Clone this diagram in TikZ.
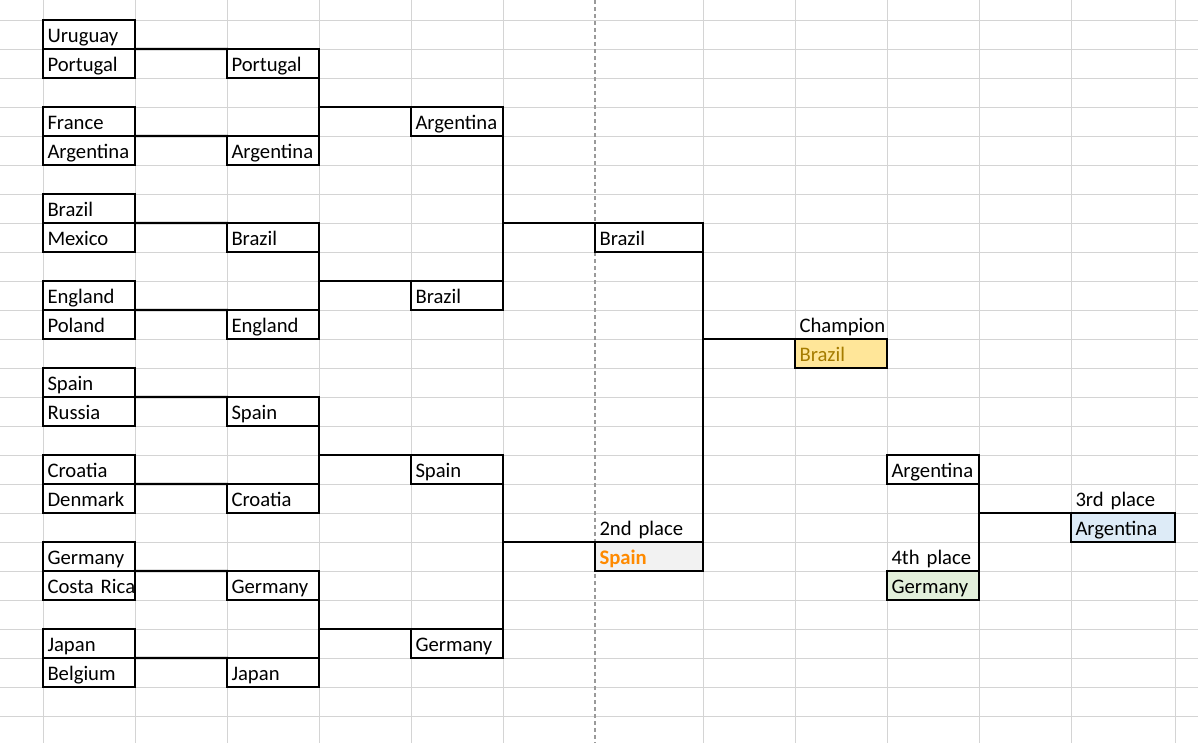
\documentclass[tikz,border=0pt]{standalone}
\usepackage{fontspec}
\setmainfont{Carlito}
\usepackage{tikz}
\usetikzlibrary{positioning}
\definecolor{gridgray}{HTML}{D4D4D4}
\definecolor{breakgray}{HTML}{9A9A9A}
\definecolor{goldfill}{HTML}{FFE699}
\definecolor{goldtext}{HTML}{A67C00}
\definecolor{silverfill}{HTML}{F2F2F2}
\definecolor{spainorange}{HTML}{FF8A00}
\definecolor{bronzefill}{HTML}{DDEBF7}
\definecolor{fourthfill}{HTML}{E2EFDA}
\tikzstyle{cell} = [rectangle, draw=black, line width=0.06cm, outer sep=0pt, anchor=north west, minimum width=2.3cm, minimum height=0.725cm, inner xsep=0.1125cm, inner ysep=0pt, text width=2.075cm, align=left, text height=0.55cm, text depth=0.175cm, font=\fontsize{14.7}{18}\selectfont]
\tikzstyle{tag} = [cell, draw=none]
\tikzstyle{line} = [line width=0.06cm, line cap=rect]
\tikzstyle{gridline} = [draw=gridgray, line width=0.025cm]

\begin{document}
\begin{tikzpicture}[x=0.025cm, y=-0.025cm]
    \useasboundingbox (0,0) rectangle (1198,743);
    % sheet grid
    \foreach \gx in {43,135,227,319,411,503,703,795,887,979,1071,1175}
        \draw[gridline] (\gx,0) -- (\gx,743);
    \foreach \k in {0,...,24}
        \draw[gridline] (0,20+29*\k) -- (1198,20+29*\k);
    \draw[breakgray, line width=0.03cm, dash pattern=on 0.1cm off 0.075cm] (595,0) -- (595,743);

    % round of 16
    \node (uruA) [cell] at (43,20) {Uruguay};
    \node (porA) [cell, below=0pt of uruA] {Portugal};
    \node (fraA) [cell] at (43,107) {France};
    \node (argA) [cell, below=0pt of fraA] {Argentina};
    \node (braA) [cell] at (43,194) {Brazil};
    \node (mexA) [cell, below=0pt of braA] {Mexico};
    \node (engA) [cell] at (43,281) {England};
    \node (polA) [cell, below=0pt of engA] {Poland};
    \node (spaA) [cell] at (43,368) {Spain};
    \node (rusA) [cell, below=0pt of spaA] {Russia};
    \node (croA) [cell] at (43,455) {Croatia};
    \node (denA) [cell, below=0pt of croA] {Denmark};
    \node (gerA) [cell] at (43,542) {Germany};
    \node (crcA) [cell, below=0pt of gerA] {Costa~Rica};
    \node (japA) [cell] at (43,629) {Japan};
    \node (belA) [cell, below=0pt of japA] {Belgium};

    % quarter-finalists
    \node (porB) [cell] at (227,49) {Portugal};
    \node (argB) [cell] at (227,136) {Argentina};
    \node (braB) [cell] at (227,223) {Brazil};
    \node (engB) [cell] at (227,310) {England};
    \node (spaB) [cell] at (227,397) {Spain};
    \node (croB) [cell] at (227,484) {Croatia};
    \node (gerB) [cell] at (227,571) {Germany};
    \node (japB) [cell] at (227,658) {Japan};

    % semi-finalists
    \node (argQ) [cell] at (411,107) {Argentina};
    \node (braQ) [cell] at (411,281) {Brazil};
    \node (spaQ) [cell] at (411,455) {Spain};
    \node (gerQ) [cell] at (411,629) {Germany};

    % finalists
    \node (braS) [cell, minimum width=2.7cm, text width=2.475cm] at (595,223) {Brazil};
    \node (secondLbl) [tag, minimum width=2.7cm, text width=2.475cm] at (595,513) {2nd place};
    \node (spaS) [cell, minimum width=2.7cm, text width=2.475cm, fill=silverfill, text=spainorange, font=\fontsize{14.7}{18}\selectfont\bfseries] at (595,542) {Spain};

    % champion
    \node (champLbl) [tag] at (795,310) {Champion};
    \node (braF) [cell, fill=goldfill, text=goldtext] at (795,339) {Brazil};

    % third place match
    \node (argT) [cell] at (887,455) {Argentina};
    \node (fourthLbl) [tag] at (887,542) {4th place};
    \node (gerT) [cell, fill=fourthfill] at (887,571) {Germany};
    \node (thirdLbl) [tag, minimum width=2.6cm, text width=2.375cm] at (1071,484) {3rd place};
    \node (argW) [cell, minimum width=2.6cm, text width=2.375cm, fill=bronzefill] at (1071,513) {Argentina};

    \draw [line] (uruA.south east) -- (porB.north west);
    \draw [line] (fraA.south east) -- (argB.north west);
    \draw [line] (braA.south east) -- (braB.north west);
    \draw [line] (engA.south east) -- (engB.north west);
    \draw [line] (spaA.south east) -- (spaB.north west);
    \draw [line] (croA.south east) -- (croB.north west);
    \draw [line] (gerA.south east) -- (gerB.north west);
    \draw [line] (japA.south east) -- (japB.north west);

    \draw [line] (porB.south east) -- (argB.north east);
    \draw [line] (argQ.north west) -- (argQ.north west -| porB.east);
    \draw [line] (braB.south east) -- (engB.north east);
    \draw [line] (braQ.north west) -- (braQ.north west -| braB.east);
    \draw [line] (spaB.south east) -- (croB.north east);
    \draw [line] (spaQ.north west) -- (spaQ.north west -| spaB.east);
    \draw [line] (gerB.south east) -- (japB.north east);
    \draw [line] (gerQ.north west) -- (gerQ.north west -| gerB.east);

    \draw [line] (argQ.south east) -- (braQ.north east);
    \draw [line] (braS.north west) -- (braS.north west -| argQ.east);
    \draw [line] (spaQ.south east) -- (gerQ.north east);
    \draw [line] (spaS.north west) -- (spaS.north west -| spaQ.east);

    \draw [line] (braS.south east) -- (spaS.north east);
    \draw [line] (braF.north west) -- (braF.north west -| braS.east);

    \draw [line] (argT.south east) -- (gerT.north east);
    \draw [line] (argW.north west) -- (argW.north west -| argT.east);
\end{tikzpicture}
\end{document}
